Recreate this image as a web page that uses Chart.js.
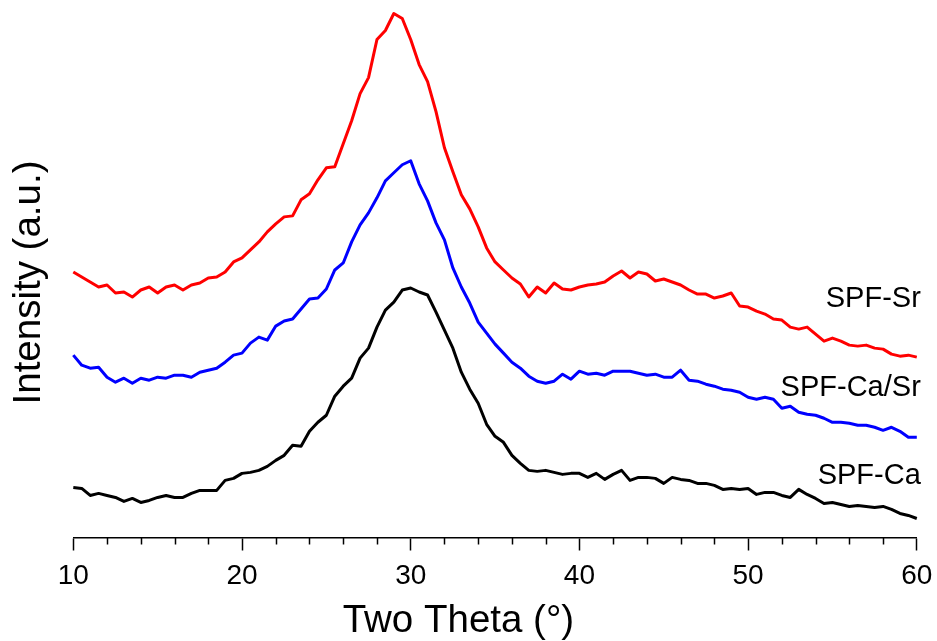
<!DOCTYPE html>
<html>
<head>
<meta charset="UTF-8">
<title>DRX - SPF</title>
<script src="https://cdn.jsdelivr.net/npm/chart.js"></script>
<style>
    body { margin: 0; background: #ffffff; }
</style>
</head>
<body>
<canvas id="grafico" width="937" height="641"></canvas>

<script>
    // eixo x: 2 theta (graus), passo de 0,5
    const twoTheta = [
        10, 10.5, 11, 11.5, 12, 12.5, 13, 13.5, 14, 14.5,
        15, 15.5, 16, 16.5, 17, 17.5, 18, 18.5, 19, 19.5,
        20, 20.5, 21, 21.5, 22, 22.5, 23, 23.5, 24, 24.5,
        25, 25.5, 26, 26.5, 27, 27.5, 28, 28.5, 29, 29.5,
        30, 30.5, 31, 31.5, 32, 32.5, 33, 33.5, 34, 34.5,
        35, 35.5, 36, 36.5, 37, 37.5, 38, 38.5, 39, 39.5,
        40, 40.5, 41, 41.5, 42, 42.5, 43, 43.5, 44, 44.5,
        45, 45.5, 46, 46.5, 47, 47.5, 48, 48.5, 49, 49.5,
        50, 50.5, 51, 51.5, 52, 52.5, 53, 53.5, 54, 54.5,
        55, 55.5, 56, 56.5, 57, 57.5, 58, 58.5, 59, 59.5,
        60
    ];

    // intensidades (u.a.), curvas já deslocadas como no original
    const spfSr = [
        265, 260, 255, 250, 252, 244, 245, 240, 247, 250,
        244, 250, 252, 247, 252, 254, 259, 260, 265, 275,
        279, 287, 295, 305, 313, 320, 321, 337, 343, 357,
        369, 370, 393, 416, 443, 459, 497, 506, 523, 518,
        497, 472, 455, 425, 389, 365, 342, 328, 310, 289,
        275, 267, 259, 253, 240, 250, 244, 254, 248, 247,
        250, 252, 253, 255, 261, 266, 259, 265, 263, 256,
        258, 255, 252, 247, 243, 243, 239, 241, 244, 231,
        230, 226, 223, 218, 217, 210, 208, 210, 203, 196,
        199, 196, 192, 191, 192, 189, 188, 183, 181, 182,
        180
    ];

    const spfCaSr = [
        182, 172, 169, 170, 160, 155, 159, 154, 159, 157,
        160, 159, 162, 162, 160, 165, 167, 169, 175, 182,
        184, 194, 200, 197, 211, 216, 218, 228, 238, 239,
        248, 267, 274, 295, 312, 324, 339, 356, 364, 372,
        376, 353, 336, 314, 297, 269, 250, 234, 215, 204,
        193, 184, 175, 169, 161, 156, 154, 156, 163, 158,
        166, 163, 164, 162, 166, 166, 166, 164, 162, 163,
        160, 160, 167, 157, 156, 153, 151, 148, 147, 145,
        140, 138, 140, 138, 129, 131, 125, 123, 122, 119,
        115, 115, 114, 112, 112, 110, 107, 110, 106, 100,
        100
    ];

    const spfCa = [
        50, 49, 42, 44, 42, 40, 36, 39, 35, 37,
        40, 42, 40, 40, 44, 47, 47, 47, 57, 59,
        64, 65, 67, 71, 77, 82, 92, 91, 106, 115,
        122, 141, 151, 159, 179, 189, 210, 227, 235, 247,
        249, 245, 242, 225, 207, 189, 165, 148, 134, 113,
        101, 95, 82, 74, 67, 66, 67, 65, 63, 64,
        64, 60, 64, 58, 63, 67, 57, 60, 60, 59,
        54, 60, 58, 57, 54, 54, 52, 48, 49, 48,
        49, 43, 45, 45, 42, 40, 48, 43, 39, 34,
        35, 33, 31, 32, 31, 30, 31, 28, 24, 22,
        19
    ];

    const nomes = ['SPF-Sr', 'SPF-Ca/Sr', 'SPF-Ca'];
    const cores = ['#ff0000', '#0000ff', '#000000'];
    // altura (em u.a.) onde fica o nome de cada curva, na ponta direita
    const alturaNome = [238, 149, 61];
    // ticks menores do eixo x
    const ticksMenores = [12, 14, 16, 18, 22, 24, 26, 28, 32, 34, 36, 38, 42, 44, 46, 48, 52, 54, 56, 58];

    const fonte = '"Liberation Sans", Arial, Helvetica, sans-serif';

    function pares(valores) {
        return twoTheta.map((t, i) => ({ x: t, y: valores[i] }));
    }

    const series = [spfSr, spfCaSr, spfCa];

    let dados = {
        datasets: series.map((s, i) => ({
            label: nomes[i],
            data: pares(s),
            borderColor: cores[i],
            borderWidth: 3,
            borderJoinStyle: 'round',
            pointRadius: 0,
            tension: 0,
            fill: false,
            clip: false
        }))
    };

    // ticks menores + nomes das curvas
    const extras = {
        id: 'extras',
        afterDraw(chart) {
            const { ctx, scales: { x, y } } = chart;
            ctx.save();
            ctx.strokeStyle = '#000';
            ctx.lineWidth = 1.5;
            ticksMenores.forEach(v => {
                const px = Math.round(x.getPixelForValue(v)) + 0.5;
                ctx.beginPath();
                ctx.moveTo(px, x.top);
                ctx.lineTo(px, x.top + 7);
                ctx.stroke();
            });
            ctx.font = '29px ' + fonte;
            ctx.fillStyle = '#000';
            ctx.textAlign = 'right';
            ctx.textBaseline = 'middle';
            nomes.forEach((n, i) => {
                ctx.fillText(n, x.getPixelForValue(60) + 4, y.getPixelForValue(alturaNome[i]));
            });
            ctx.restore();
        }
    };

    const config = {
        type: 'line',
        data: dados,
        options: {
            responsive: false,
            animation: false,
            devicePixelRatio: 1,
            layout: { padding: { top: 27.5, right: 20.2, bottom: 0, left: 0 } },
            plugins: {
                legend: { display: false },
                tooltip: { enabled: false },
                title: {
                    display: true,
                    position: 'bottom',
                    text: 'Two Theta (°)',
                    color: '#000',
                    font: { family: fonte, size: 38.5, weight: 'normal', lineHeight: 1 },
                    padding: { top: 1, bottom: 0 }
                }
            },
            scales: {
                x: {
                    type: 'linear',
                    min: 10,
                    max: 60,
                    afterFit(scale) {
                        // o "60" cabe na margem direita, não precisa encolher a área
                        scale.paddingRight = 0;
                        scale.paddingLeft = 0;
                    },
                    ticks: {
                        stepSize: 10,
                        color: '#000',
                        padding: 8.7,
                        font: { family: fonte, size: 28 }
                    },
                    grid: {
                        drawOnChartArea: false,
                        drawTicks: true,
                        tickLength: 13,
                        tickWidth: 1.5,
                        tickColor: '#000'
                    },
                    border: { display: true, color: '#000', width: 1.5 }
                },
                y: {
                    min: 0,
                    max: 509,
                    ticks: { display: false },
                    grid: { display: false, drawTicks: false },
                    border: { display: false },
                    title: {
                        display: true,
                        text: 'Intensity (a.u.)',
                        color: '#000',
                        font: { family: fonte, size: 38.5 },
                        padding: { top: 6.4, bottom: 20.7 }
                    }
                }
            }
        },
        plugins: [extras]
    };

    let myChart = new Chart(document.getElementById('grafico'), config);
</script>
</body>
</html>
